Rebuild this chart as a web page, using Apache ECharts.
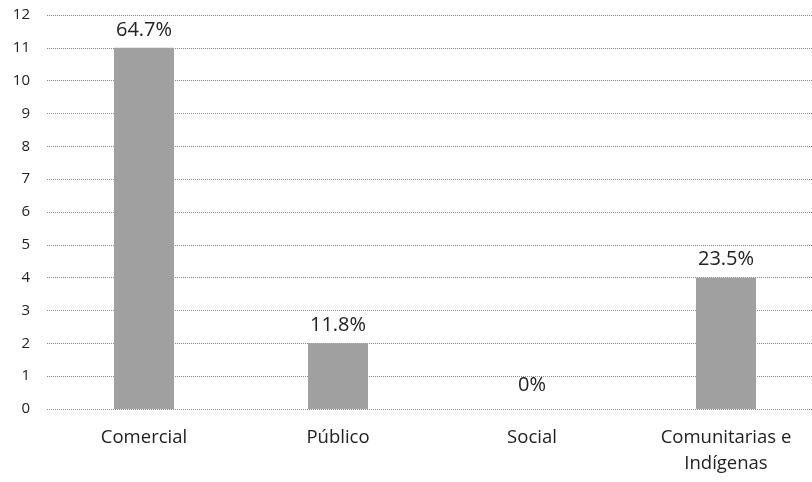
<!DOCTYPE html>
<html>
<head>
<meta charset="utf-8">
<script src="https://cdn.jsdelivr.net/npm/echarts@6/dist/echarts.min.js"></script>
<style>html,body{margin:0;padding:0;background:#fff;overflow:hidden}#c{width:823px;height:482px}</style>
</head>
<body>
<div id="c"></div>
<script>
const categories = ['Comercial', 'Público', 'Social', 'Comunitarias e\nIndígenas'];
const values = [11, 2, 0, 4];
const percentLabels = ['64.7%', '11.8%', '0%', '23.5%'];
const yTicks = { min: 0, max: 12, interval: 1 };

const FONT = '"Open Sans", Lato, sans-serif';
const chart = echarts.init(document.getElementById('c'));
chart.setOption({
  animation: false,
  backgroundColor: '#ffffff',
  grid: { left: 47, right: 0, top: 15, bottom: 73, containLabel: false },
  xAxis: {
    type: 'category',
    data: categories,
    axisLine: { show: false },
    axisTick: { show: false },
    axisLabel: { color: '#222', fontSize: 18.5, fontFamily: FONT, margin: 16, lineHeight: 26 }
  },
  yAxis: {
    type: 'value',
    min: yTicks.min, max: yTicks.max, interval: yTicks.interval,
    axisLine: { show: false },
    axisTick: { show: false },
    axisLabel: { color: '#222', fontSize: 15, fontFamily: FONT, margin: 17 },
    splitLine: { lineStyle: { color: '#8a8a8a', type: [1, 1], width: 1 } }
  },
  series: [{
    type: 'bar',
    barWidth: 60,
    data: values.map((v, i) => ({
      value: v,
      label: { formatter: percentLabels[i], distance: v === 0 ? 14 : 8 }
    })),
    itemStyle: {
      color: '#a0a0a0',
      borderWidth: 0
    },
    label: {
      show: true,
      position: 'top',
      color: '#222',
      fontSize: 20,
      fontFamily: FONT
    }
  }]
});
</script>
</body>
</html>
